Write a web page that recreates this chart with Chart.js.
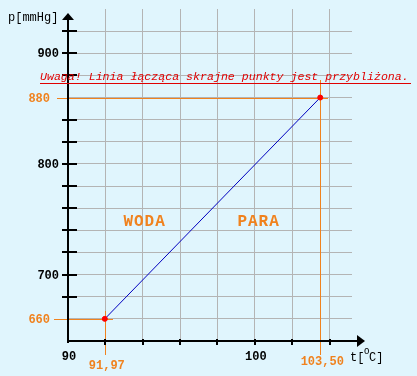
<!DOCTYPE html>
<html><head><meta charset="utf-8">
<script src="https://cdn.jsdelivr.net/npm/chart.js@4"></script>
<style>html,body{margin:0;padding:0;background:#e0f5fd;overflow:hidden}#wrap{width:417px;height:376px}</style>
</head><body><div id="wrap"><canvas id="c" width="417" height="376"></canvas></div>
<script>
// ---- data ----
const tempC = [91.97, 103.50];          // temperature of the two extreme points
const pressure = [660, 860];            // position of the points on the p scale (as drawn)
const tempLabels = ['91,97', '103,50'];
const pressureLabels = ['660', '880'];
const yGridValues = [660, 680, 700, 720, 740, 760, 780, 800, 820, 840, 860, 880, 900, 920];
const yTickValues = [700, 800, 900];
const yTickLabels = ['700', '800', '900'];
const xGridValues = [92, 94, 96, 98, 100, 102, 104];
const xTickValues = [90, 100];
const xTickLabels = ['90', '100'];
const regionLabels = ['WODA', 'PARA'];
const noteText = 'Uwaga! Linia łącząca skrajne punkty jest przybliżona.';
const yTitle = 'p[mmHg]';

const ORANGE = '#f0821e', GRID = '#b4b4b4', BG = '#e0f5fd', MONO = '"Liberation Mono", monospace';

const deco = {
  id: 'deco',
  beforeDraw(chart) {
    const c = chart.ctx; c.save(); c.fillStyle = BG; c.fillRect(0, 0, chart.width, chart.height); c.restore();
  },
  beforeDatasetsDraw(chart) {
    const c = chart.ctx, xs = chart.scales.x, ys = chart.scales.y;
    c.save();
    c.fillStyle = ORANGE;
    for (let i = 0; i < tempC.length; i++) {
      const px = Math.round(xs.getPixelForValue(tempC[i]));
      const py = Math.round(ys.getPixelForValue(pressure[i]));
      c.fillRect(54 + i * 3, py, px + 8 - (54 + i * 3), 1);
      const top = i === 0 ? py - 8 : 80;
      c.fillRect(px, top, 1, 355 - top);
    }
    c.restore();
  },
  afterDatasetsDraw(chart) {
    const c = chart.ctx, xs = chart.scales.x, ys = chart.scales.y, ca = chart.chartArea;
    c.save();
    c.fillStyle = '#000';
    const ax = Math.round(xs.getPixelForValue(90)), ay = Math.round(ys.getPixelForValue(640));
    // axes
    c.fillRect(ax - 1, 18, 2, ay + 2 - 18);
    c.fillRect(ax - 1, ay - 1, 358 - ax, 2);
    // arrows
    c.beginPath(); c.moveTo(ax, 13); c.lineTo(ax + 6, 20); c.lineTo(ax - 6, 20); c.closePath(); c.fill();
    c.beginPath(); c.moveTo(365, ay); c.lineTo(357, ay - 6); c.lineTo(357, ay + 6); c.closePath(); c.fill();
    // y ticks
    yGridValues.forEach(v => {
      if (pressure.includes(v)) return;
      const y = Math.round(ys.getPixelForValue(v));
      c.fillRect(ax - 6, y - 1, 15, 2);
    });
    // x ticks
    xGridValues.forEach(v => {
      const x = Math.round(xs.getPixelForValue(v));
      c.fillRect(x - 1, ay - 2, 2, 6);
    });
    // y labels
    c.font = 'bold 12px ' + MONO; c.textAlign = 'right'; c.textBaseline = 'middle';
    yTickValues.forEach((v, i) => c.fillText(yTickLabels[i], 59, ys.getPixelForValue(v) + 1));
    c.fillStyle = ORANGE;
    pressure.forEach((v, i) => c.fillText(pressureLabels[i], 50, ys.getPixelForValue(v) + 1));
    // x labels
    c.textAlign = 'center'; c.fillStyle = '#000';
    xTickValues.forEach((v, i) => c.fillText(xTickLabels[i], xs.getPixelForValue(v) + 1, 357));
    c.fillStyle = ORANGE;
    tempC.forEach((v, i) => c.fillText(tempLabels[i], xs.getPixelForValue(v) + 2, i === 0 ? 366 : 362));
    // axis titles
    c.fillStyle = '#000'; c.font = '12px ' + MONO; c.textAlign = 'left'; c.textBaseline = 'alphabetic';
    c.fillText(yTitle, 8, 21);
    c.fillText('t[', 350, 361);
    c.font = '9px ' + MONO; c.fillText('O', 364, 354);
    c.font = '12px ' + MONO; c.fillText('C]', 369, 361);
    // note
    c.fillStyle = '#e00000'; c.font = 'italic 11.6px ' + MONO; c.textAlign = 'left'; c.textBaseline = 'alphabetic';
    c.fillText(noteText, 40, 80);
    c.fillRect(40, 83, 371, 1);
    // region labels
    c.fillStyle = ORANGE; c.font = 'bold 16px ' + MONO; c.textAlign = 'center'; c.textBaseline = 'middle';
    c.letterSpacing = '1px';
    c.fillText(regionLabels[0], xs.getPixelForValue(94.1), ys.getPixelForValue(748));
    c.fillText(regionLabels[1], xs.getPixelForValue(100.2), ys.getPixelForValue(748));
    c.restore();
  }
};

new Chart(document.getElementById('c'), {
  type: 'scatter',
  data: {
    datasets: [{
      data: tempC.map((t, i) => ({ x: t, y: pressure[i] })),
      showLine: true,
      borderColor: '#0000c0',
      borderWidth: 1,
      pointRadius: 2.5,
      pointBackgroundColor: '#ff0000',
      pointBorderColor: '#ff0000',
      pointBorderWidth: 1
    }]
  },
  options: {
    responsive: false, animation: false, devicePixelRatio: 1,
    layout: { padding: { top: 9, right: 65, left: 0, bottom: 0 } },
    plugins: { legend: { display: false }, tooltip: { enabled: false } },
    scales: {
      x: {
        type: 'linear', min: 90, max: 105.2,
        afterBuildTicks: s => { s.ticks = xGridValues.map(v => ({ value: v })); },
        afterFit: s => { s.height = 35; },
        ticks: { display: false },
        grid: { color: GRID, lineWidth: 1, drawTicks: false },
        border: { display: false }
      },
      y: {
        type: 'linear', min: 640, max: 940,
        afterBuildTicks: s => { s.ticks = yGridValues.map(v => ({ value: v })); },
        afterFit: s => { s.width = 68; },
        ticks: { display: false },
        grid: { color: GRID, lineWidth: 1, drawTicks: false },
        border: { display: false }
      }
    }
  },
  plugins: [deco]
});
</script>
</body></html>
